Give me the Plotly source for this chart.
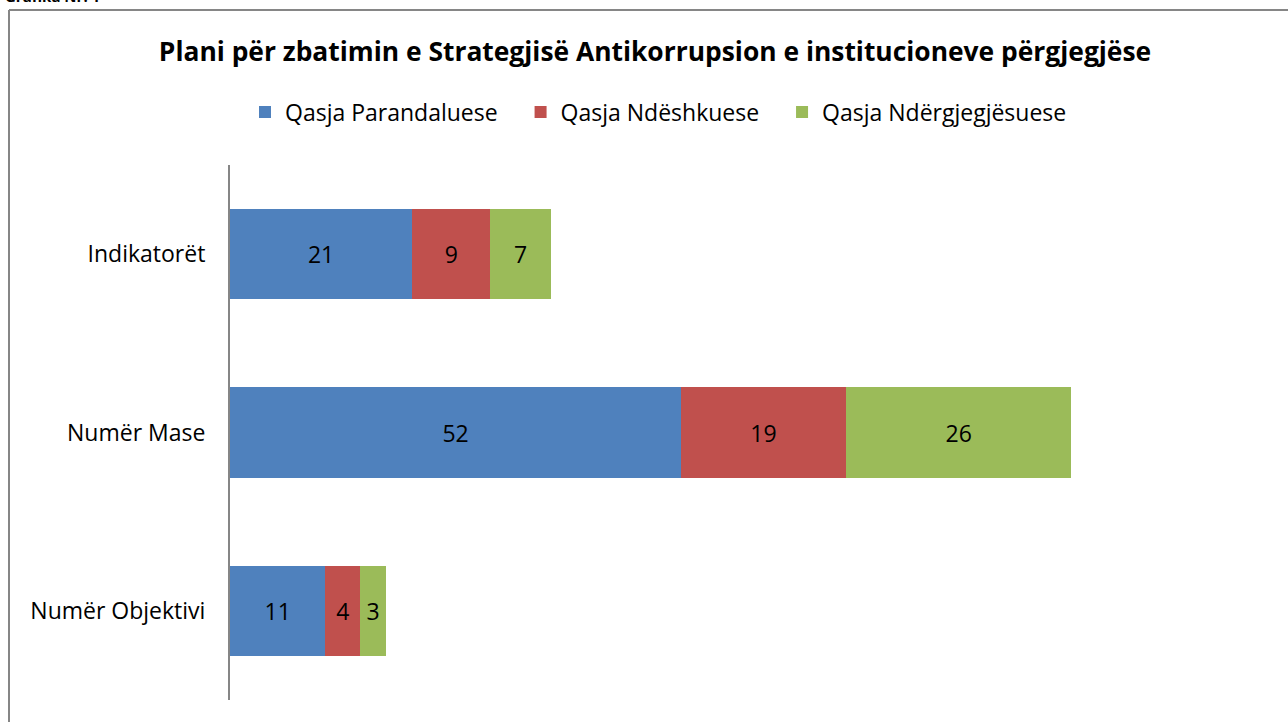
import plotly.graph_objects as go

categories = ["Numër Objektivi", "Numër Mase", "Indikatorët"]
series_names = ["Qasja Parandaluese", "Qasja Ndëshkuese", "Qasja Ndërgjegjësuese"]
parandaluese = [11, 52, 21]
ndeshkuese = [4, 19, 9]
ndergjegjesuese = [3, 26, 7]
colors = ["#4F81BD", "#C0504D", "#9BBB59"]

W, H = 1288, 722
L, R, T, B = 230, 1271, 165, 700
FONT = "Open Sans"
FS = 23
PAD = "&nbsp;" * 3

def px(x):
    return (x - L) / (R - L)

def py(y):
    return (B - y) / (B - T)

fig = go.Figure()
n = len(series_names)
for i, (name, vals, col) in enumerate(zip(series_names, [parandaluese, ndeshkuese, ndergjegjesuese], colors)):
    fig.add_trace(go.Bar(
        y=categories, x=vals, name=name + (PAD if i < n - 1 else ""), orientation="h",
        marker=dict(color=col, line=dict(width=0)),
        text=vals, textposition="inside", insidetextanchor="middle",
        textfont=dict(color="black", size=FS, family=FONT),
        constraintext="none",
    ))

fig.update_layout(
    width=W, height=H,
    barmode="stack", bargap=0.495,
    paper_bgcolor="white", plot_bgcolor="white",
    margin=dict(l=L, r=W - R, t=T, b=H - B, pad=0),
    font=dict(family=FONT, size=FS, color="black"),
    title=dict(text="<b>Plani për zbatimin e Strategjisë Antikorrupsion e institucioneve përgjegjëse</b>",
               x=px(655), xanchor="center", xref="paper", y=1 - 52 / H, yanchor="middle",
               font=dict(size=26.4, family=FONT, color="black")),
    legend=dict(orientation="h", x=px(245), xanchor="left", y=py(112), yanchor="middle",
                font=dict(size=FS, family=FONT), traceorder="normal", itemclick=False),
    xaxis=dict(range=[0, 120], visible=False, showgrid=False),
    yaxis=dict(showline=True, linecolor="#868686", linewidth=2, ticks="", showgrid=False,
               ticklabelstandoff=18, tickfont=dict(size=FS, family=FONT)),
    showlegend=True,
)

# outer frame (top and left borders visible)
fig.add_shape(type="line", xref="paper", yref="paper",
              x0=px(9), x1=px(1300), y0=py(10), y1=py(10),
              line=dict(color="#868686", width=2))
fig.add_shape(type="line", xref="paper", yref="paper",
              x0=px(9), x1=px(9), y0=py(10), y1=py(740),
              line=dict(color="#868686", width=2))

fig.add_annotation(text="<b>Grafika Nr. 1</b>", xref="paper", yref="paper",
                   x=px(3), y=py(8), xanchor="left", yanchor="bottom",
                   showarrow=False, font=dict(size=15, family=FONT, color="black"))

fig.write_html("out.html", config={"displayModeBar": False},
               post_script="document.body.style.margin='0';document.body.style.overflow='hidden';")
